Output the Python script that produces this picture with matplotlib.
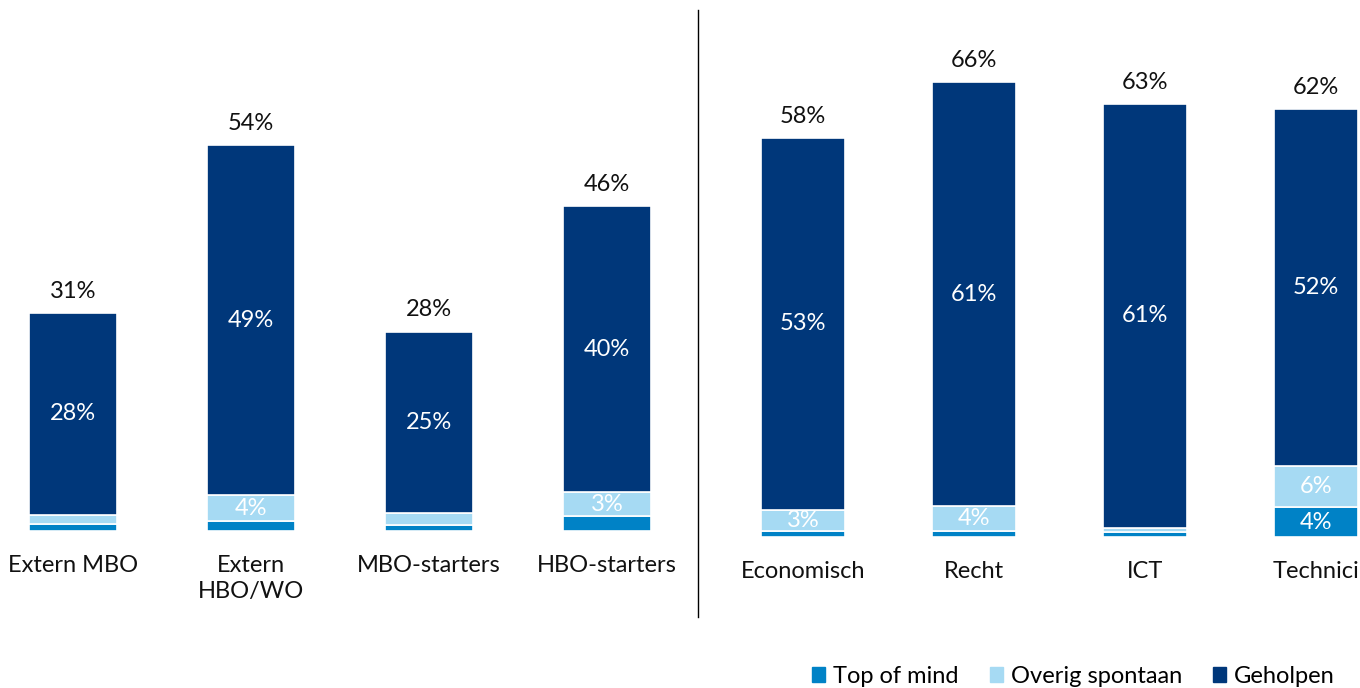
import numpy as np
import matplotlib.pyplot as plt
from matplotlib.patches import Patch
from matplotlib.lines import Line2D

plt.rcParams['font.family'] = ['Lato', 'DejaVu Sans']

# left panel
left_cats = ['Extern MBO', 'Extern\nHBO/WO', 'MBO-starters', 'HBO-starters']
left_top = [1.0, 1.4, 0.9, 2.1]
left_overig = [1.3, 3.6, 1.6, 3.3]
left_geholpen = [28.2, 49.0, 25.4, 40.0]
left_total = ['31%', '54%', '28%', '46%']
left_geh_lbl = ['28%', '49%', '25%', '40%']
left_top_lbl = [None, None, None, None]
left_ov_lbl = [None, '4%', None, '3%']

# right panel
right_cats = ['Economisch', 'Recht', 'ICT', 'Technici']
right_top = [0.9, 0.9, 0.7, 4.3]
right_overig = [3.0, 3.6, 0.6, 5.9]
right_geholpen = [53.5, 60.9, 61.0, 51.4]
right_total = ['58%', '66%', '63%', '62%']
right_geh_lbl = ['53%', '61%', '61%', '52%']
right_top_lbl = [None, None, None, '4%']
right_ov_lbl = ['3%', '4%', None, '6%']

series_names = ['Top of mind', 'Overig spontaan', 'Geholpen']
colors = ['#0082C6', '#A6DAF3', '#00377A']

W, H = 1360, 688
fig = plt.figure(figsize=(W / 100, H / 100), dpi=100)


def panel(px0, px1, c0, step, base, scale, cats, top, overig, geh, tot, lg, lt, lo):
    ax = fig.add_axes([px0 / W, 0, (px1 - px0) / W, 1])
    ax.set_xlim((px0 - c0) / step, (px1 - c0) / step)
    ax.set_ylim(-(H - base) / scale, base / scale)
    ax.axis('off')
    x = np.arange(len(cats))
    w = 0.49
    top = np.array(top)
    overig = np.array(overig)
    geh = np.array(geh)
    ax.bar(x, top, w, color=colors[0], edgecolor='white', linewidth=1.2)
    ax.bar(x, overig, w, bottom=top, color=colors[1], edgecolor='white', linewidth=1.2)
    ax.bar(x, geh, w, bottom=top + overig, color=colors[2], edgecolor='white', linewidth=1.2)
    for i in range(len(cats)):
        ax.text(x[i], (top[i] + overig[i]) + geh[i] / 2, lg[i], ha='center', va='center',
                color='white', fontsize=17)
        if lo[i]:
            ax.text(x[i], top[i] + overig[i] / 2, lo[i], ha='center', va='center', color='white', fontsize=17)
        if lt[i]:
            ax.text(x[i], top[i] / 2, lt[i], ha='center', va='center', color='white', fontsize=17)
        ax.annotate(tot[i], (x[i], top[i] + overig[i] + geh[i]), xytext=(0, 8), textcoords='offset points',
                    ha='center', va='bottom', fontsize=17, color='#111111')
        ax.annotate(cats[i], (x[i], 0), xytext=(0, -17), textcoords='offset points',
                    ha='center', va='top', fontsize=17, color='#111111', linespacing=1.3)
    return ax


panel(0, 698, 73, 178, 531, 7.15, left_cats, left_top, left_overig, left_geholpen, left_total,
      left_geh_lbl, left_top_lbl, left_ov_lbl)
panel(698, 1360, 803, 171, 537, 6.95, right_cats, right_top, right_overig, right_geholpen, right_total,
      right_geh_lbl, right_top_lbl, right_ov_lbl)

fig.add_artist(Line2D([698 / W, 698 / W], [1 - 10 / H, 1 - 617 / H], color='black', linewidth=1))

handles = [Patch(color=c) for c in colors]
fig.legend(handles, series_names, loc='lower right', bbox_to_anchor=(1356 / W, -20 / H), ncol=3,
           frameon=False, fontsize=17, handlelength=0.55, handleheight=0.55, handletextpad=0.35,
           columnspacing=1.3)

fig.savefig('out.png', dpi=100)
